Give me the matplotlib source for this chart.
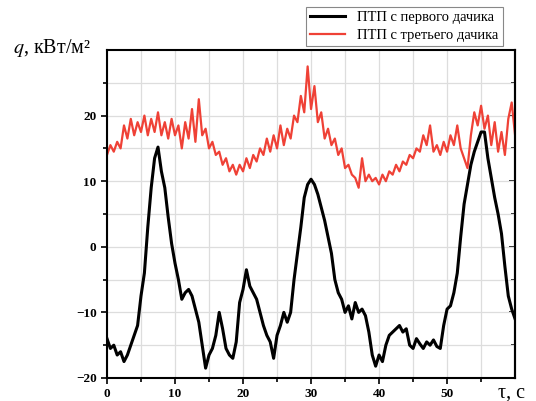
import matplotlib
matplotlib.use('Agg')
import matplotlib.pyplot as plt
import numpy as np

# time axis, s (step 0.5 s)
t = np.arange(0, 60.01, 0.5)

# heat flux from sensor 1, kW/m2
q1 = [-14, -15.5, -15, -16.5, -16, -17.5, -16.5, -15, -13.5, -12,
      -7.5, -4, 3, 9, 13.5, 15.2, 11.5, 9, 4.5, 0.5,
      -2.5, -5, -8, -7, -6.5, -7.5, -9.5, -11.5, -15, -18.5,
      -16.5, -15.5, -13.5, -10, -12.5, -15.5, -16.5, -17, -14.5, -8.5,
      -6.5, -3.5, -6, -7, -8, -10, -12, -13.5, -14.5, -17,
      -13.5, -12, -10, -11.5, -10, -5, -1, 3, 7.5, 9.5,
      10.3, 9.5, 8, 6, 4, 1.5, -1, -5, -7, -8,
      -10, -9, -11, -8.5, -10, -9.5, -10.5, -13, -16.5, -18.2,
      -16.5, -17.5, -15, -13.5, -13, -12.5, -12, -13, -12.5, -15,
      -15.5, -14, -14.8, -15.5, -14.5, -15, -14.2, -15.2, -15.5, -12,
      -9.5, -9, -7, -4, 1.5, 6.5, 9.5, 12.5, 14.5, 16,
      17.5, 17.5, 13.5, 10.5, 7.5, 5, 2, -3, -7.5, -9.5,
      -11]

# heat flux from sensor 3, kW/m2
q3 = [14, 15.5, 14.5, 16, 15, 18.5, 16.5, 19.5, 17, 19,
      17.5, 20, 17, 19.5, 17.5, 20.5, 17, 19, 16.5, 19.5,
      17, 18.5, 15, 19, 16.5, 21, 16, 22.5, 17, 18,
      15, 16, 14, 14.5, 12.5, 13.5, 11.5, 12.5, 11, 12.5,
      11.5, 13.5, 12, 14, 13, 15, 14, 16.5, 14.5, 17,
      15, 18.5, 15.5, 18, 16.5, 20, 19, 23, 20.5, 27.5,
      21, 24.5, 19, 20.5, 16.5, 18, 15.5, 16.5, 14, 15,
      12, 12.5, 11, 10.5, 9, 13.5, 10, 11, 10, 10.5,
      9.5, 11, 10, 11.5, 11, 12.5, 11.5, 13, 12.5, 14,
      13.5, 15, 14.5, 17, 15.5, 18.5, 14.5, 15.5, 14, 16,
      14.5, 17, 15.5, 18.5, 15, 13.5, 12, 17, 20.5, 18.5,
      21.5, 18, 20, 15.5, 19, 14.5, 17.5, 14, 19.5, 22,
      17]

labels = ['ПТП с первого дачика', 'ПТП с третьего дачика']

plt.rcParams['font.family'] = ['Liberation Serif', 'DejaVu Serif']

fig = plt.figure(figsize=(5.36, 4.01), dpi=100)
ax = fig.add_axes([0.1996, 0.0574, 0.7614, 0.8179])

ax.plot(t, q1, color='black', linewidth=2.2, label=labels[0])
ax.plot(t, q3, color='#ef4136', linewidth=1.6, label=labels[1])

ax.set_xlim(0, 60)
ax.set_ylim(-20, 30)
ax.set_xticks([0, 10, 20, 30, 40, 50])
ax.set_xticks(np.arange(5, 60, 10), minor=True)
ax.set_yticks([-20, -10, 0, 10, 20])
ax.set_yticks([-15, -5, 5, 15, 25], minor=True)
ax.grid(True, which='both', color='#dddddd', linewidth=0.9)
ax.set_axisbelow(True)

for s in ax.spines.values():
    s.set_linewidth(1.5)
ax.tick_params(which='both', direction='out', width=1.2, right=False, top=False)
ax.tick_params(which='major', length=4)
ax.tick_params(which='minor', length=3)
for lab in ax.get_xticklabels() + ax.get_yticklabels():
    lab.set_fontweight('bold')
    lab.set_fontsize(9.5)

# right side: inward ticks, no labels
ax_r = ax.secondary_yaxis('right')
ax_r.set_yticks([-20, -10, 0, 10, 20])
ax_r.set_yticks([-15, -5, 5, 15, 25], minor=True)
ax_r.tick_params(which='both', direction='in', width=1.2, labelright=False)
ax_r.tick_params(which='major', length=4)
ax_r.tick_params(which='minor', length=3)
ax_r.spines['right'].set_linewidth(1.5)

leg = ax.legend(loc='upper right', bbox_to_anchor=(0.938, 0.983),
                bbox_transform=fig.transFigure, fontsize=10.5, frameon=True,
                fancybox=False, edgecolor='#888888', framealpha=1,
                borderaxespad=0, handlelength=2.4, borderpad=0.3, labelspacing=0.3)
leg.get_frame().set_linewidth(0.8)
leg.set_zorder(5)

fig.text(13 / 536, 1 - 48 / 401, '$q$, кВт/м²', fontsize=14.5, ha='left', va='center',
         math_fontfamily='stix')
fig.text(498 / 536, 1 - 393 / 401, 'τ, с', fontsize=14.5, ha='left', va='center')

fig.savefig('out.png', dpi=100)
